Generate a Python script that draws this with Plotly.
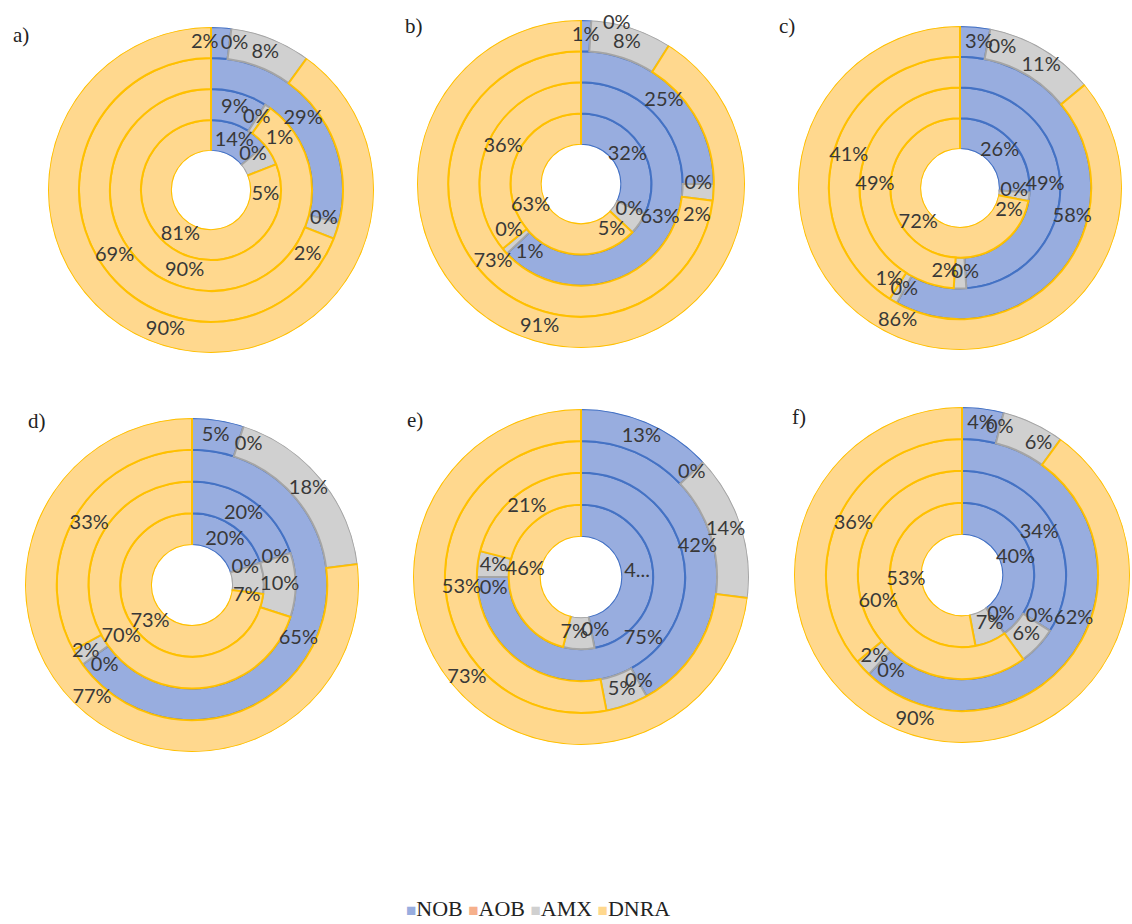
import plotly.graph_objects as go

# Nitrate-reduction pathway shares (%), one list per panel, innermost ring first
SERIES = ["NOB", "AOB", "AMX", "DNRA"]
PANELS = ["a", "b", "c", "d", "e", "f"]

nob = {
    "a": [14, 9, 29, 2],
    "b": [32, 63, 25, 1],
    "c": [26, 49, 58, 3],
    "d": [20, 20, 65, 5],
    "e": [47, 75, 42, 13],
    "f": [40, 34, 62, 4],
}
aob = {
    "a": [0, 0, 0, 0],
    "b": [0, 0, 0, 0],
    "c": [0, 0, 0, 0],
    "d": [0, 0, 0, 0],
    "e": [0, 0, 0, 0],
    "f": [0, 0, 0, 0],
}
amx = {
    "a": [5, 1, 2, 8],
    "b": [5, 1, 2, 8],
    "c": [2, 2, 1, 11],
    "d": [7, 10, 2, 18],
    "e": [7, 4, 5, 14],
    "f": [7, 6, 2, 6],
}
dnra = {
    "a": [81, 90, 69, 90],
    "b": [63, 36, 73, 91],
    "c": [72, 49, 41, 86],
    "d": [73, 70, 33, 77],
    "e": [46, 21, 53, 73],
    "f": [53, 60, 36, 90],
}
values = {"NOB": nob, "AOB": aob, "AMX": amx, "DNRA": dnra}

# a label too long for its slice is shown cut short
label_override = {("e", "NOB", 0): "4..."}

# labels of thin neighbouring slices are pushed apart: (degrees, ring widths)
label_nudge = {
    ("a", "AMX", 0): (36, 0), ("a", "AMX", 1): (19, 0), ("a", "AMX", 2): (16, 0),
    ("a", "NOB", 3): (-6, 0), ("a", "AOB", 3): (2, 0),
    ("b", "AOB", 3): (9, 0.5), ("b", "AMX", 2): (12, 0.1), ("b", "AOB", 1): (10, 0),
    ("b", "AMX", 1): (-12, 0), ("b", "AMX", 0): (22, 0), ("b", "AOB", 0): (3, 0),
    ("c", "AMX", 2): (7, 0), ("c", "AMX", 1): (10, 0), ("c", "AMX", 0): (18, 0),
    ("c", "NOB", 3): (2, 0), ("c", "AOB", 3): (6, 0), ("c", "AMX", 3): (3, 0),
    ("d", "AOB", 3): (4, 0), ("d", "AOB", 2): (-7, 0), ("d", "AMX", 2): (0, 0.2),
    ("d", "AMX", 0): (17, 0),
    ("e", "AOB", 1): (-8, 0), ("e", "AOB", 0): (-4, 0), ("e", "AMX", 0): (5, 0),
    ("f", "AMX", 3): (5, 0), ("f", "AOB", 2): (-7, 0), ("f", "AOB", 1): (-4, 0),
    ("f", "AOB", 0): (-8, 0), ("f", "AMX", 0): (-6, 0),
}

fill = {
    "NOB": "rgb(152,173,223)",
    "AOB": "rgb(246,176,140)",
    "AMX": "rgb(208,208,208)",
    "DNRA": "rgb(255,216,142)",
}
edge = {
    "NOB": "#4472C4",
    "AOB": "#ED7D31",
    "AMX": "#A5A5A5",
    "DNRA": "#FFC000",
}

W, H = 1132, 924
# centre (px) and outer radius (px) of each doughnut
geometry = {
    "a": (211, 190, 163),
    "b": (581, 184, 164),
    "c": (960, 188, 162),
    "d": (192, 585, 167),
    "e": (581, 577, 168),
    "f": (962, 575, 168),
}
# panel tag positions (px)
tag_pos = {
    "a": (21, 35),
    "b": (414, 26),
    "c": (787, 26),
    "d": (37, 421),
    "e": (415, 420),
    "f": (799, 417),
}

N_RINGS = 4
fig = go.Figure()
layout_polars = {}

for k, p in enumerate(PANELS):
    pid = "polar" if k == 0 else f"polar{k + 1}"
    cx, cy, rad = geometry[p]
    layout_polars[pid] = dict(
        domain=dict(
            x=[(cx - rad) / W, (cx + rad) / W],
            y=[1 - (cy + rad) / H, 1 - (cy - rad) / H],
        ),
        hole=0.24,
        bgcolor="rgba(0,0,0,0)",
        radialaxis=dict(range=[0, N_RINGS], visible=False),
        angularaxis=dict(visible=False, rotation=90, direction="clockwise"),
    )

    # cumulative start angle per ring
    start = [0.0] * N_RINGS
    lab_r, lab_t, lab_txt = [], [], []
    for s in SERIES:
        vals = values[s][p]
        spans = [v * 3.6 for v in vals]
        mids = [start[i] + spans[i] / 2 for i in range(N_RINGS)]
        fig.add_trace(
            go.Barpolar(
                subplot=pid,
                name=s,
                showlegend=False,
                base=list(range(N_RINGS)),
                r=[1] * N_RINGS,
                theta=mids,
                width=spans,
                marker=dict(
                    color=fill[s],
                    line=dict(color=edge[s], width=0 if s == "AOB" else 2),
                ),
                hoverinfo="skip",
            )
        )
        for i in range(N_RINGS):
            dt, dr = label_nudge.get((p, s, i), (0, 0))
            lab_r.append(min(i + 0.5 + dr, N_RINGS))
            lab_t.append(mids[i] + dt)
            lab_txt.append(label_override.get((p, s, i), f"{vals[i]}%"))
            start[i] += spans[i]

    fig.add_trace(
        go.Scatterpolar(
            subplot=pid,
            r=lab_r,
            theta=lab_t,
            text=lab_txt,
            mode="text",
            textposition="middle center",
            textfont=dict(family="Lato", size=20, color="#383838"),
            showlegend=False,
            hoverinfo="skip",
            cliponaxis=False,
        )
    )

    tx, ty = tag_pos[p]
    fig.add_annotation(
        x=tx / W, y=1 - ty / H, xref="paper", yref="paper",
        text=f"{p})", showarrow=False,
        font=dict(family="Liberation Serif", size=21, color="#222222"),
        xanchor="center", yanchor="middle",
    )

# series key along the bottom edge
key_text = " ".join(
    f"<span style='font-size:17px;color:{fill[s]}'>&#9632;</span>{s}" for s in SERIES
)
fig.add_annotation(
    x=538 / W, y=1 - 908 / H, xref="paper", yref="paper",
    text=key_text, showarrow=False,
    font=dict(family="Liberation Serif", size=22, color="#222222"),
    xanchor="center", yanchor="middle",
)

fig.update_layout(
    width=W,
    height=H,
    margin=dict(l=0, r=0, t=0, b=0),
    paper_bgcolor="white",
    plot_bgcolor="white",
    showlegend=False,
    **layout_polars,
)

fig.write_html("out.html")
